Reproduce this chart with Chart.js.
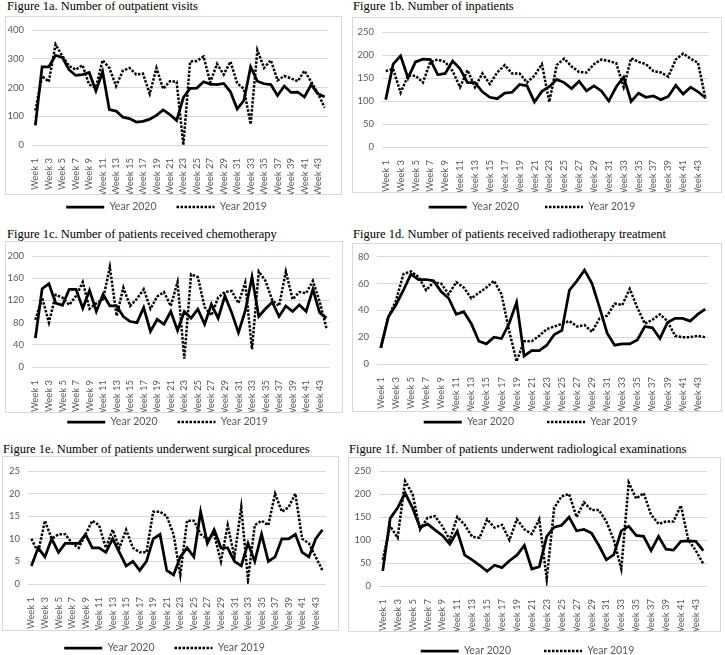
<!DOCTYPE html>
<html>
<head>
<meta charset="utf-8">
<script src="https://cdn.jsdelivr.net/npm/chart.js@4"></script>
<style>
body { margin: 0; width: 725px; height: 655px; overflow: hidden; background: #fff; position: relative; }
.ttl { position: absolute; font-family: "Liberation Serif", serif; font-size: 12.5px; line-height: 14px; white-space: nowrap; color: #000; }
.box { position: absolute; border: 1px solid #d9d9d9; box-sizing: border-box; }
canvas { position: absolute; }
</style>
</head>
<body>
<script>
var weeks = ['Week 1','Week 2','Week 3','Week 4','Week 5','Week 6','Week 7','Week 8','Week 9','Week 10',
  'Week 11','Week 12','Week 13','Week 14','Week 15','Week 16','Week 17','Week 18','Week 19','Week 20',
  'Week 21','Week 22','Week 23','Week 24','Week 25','Week 26','Week 27','Week 28','Week 29','Week 30',
  'Week 31','Week 32','Week 33','Week 34','Week 35','Week 36','Week 37','Week 38','Week 39','Week 40',
  'Week 41','Week 42','Week 43','Week 44'];
var seriesNames = ['Year 2020', 'Year 2019'];

var outpatient2020 = [68,272,272,312,305,262,242,245,252,188, 255,123,118,97,92,80,82,90,103,122, 106,85,165,197,198,220,212,210,214,185, 125,155,272,222,213,210,172,205,183,184, 167,210,178,168];
var outpatient2019 = [120,240,220,350,310,275,262,278,210,200, 295,268,205,258,268,245,248,178,268,195, 222,220,0,290,292,308,218,282,245,290, 215,195,72,330,268,295,225,240,232,222, 258,220,180,130];

var inpatient2020 = [103,180,198,150,185,191,190,157,160,187, 170,140,140,120,108,105,117,119,136,133, 98,121,131,147,140,127,143,122,133,122, 100,131,152,99,117,108,111,103,110,134, 115,130,120,107];
var inpatient2019 = [165,170,118,155,155,140,185,190,185,165, 130,167,130,160,137,162,178,160,160,140, 155,180,98,178,192,175,163,162,180,190, 187,182,130,193,185,180,165,162,153,190, 203,192,183,105];

var chemo2020 = [52,141,150,115,111,140,140,106,138,100, 131,110,110,91,82,80,107,64,86,77, 100,66,100,88,104,77,113,88,128,98, 62,101,162,91,105,117,91,110,100,112, 100,140,98,88];
var chemo2019 = [85,125,80,130,125,112,128,153,105,115, 122,180,92,143,110,123,140,105,127,135, 110,153,15,167,162,108,93,125,135,137, 115,152,32,172,155,120,110,172,122,135, 133,155,118,70];

var radio2020 = [12,35,44,55,67,63,63,62,54,49, 37,39,30,17,15,20,19,30,46,6, 10,10,14,22,25,55,62,70,60,42, 23,14,15,15,18,28,27,19,31,34, 34,32,37,41];
var radio2019 = [12,35,47,67,69,65,55,61,60,52, 61,57,49,53,57,62,52,25,2,17, 17,21,26,28,30,32,28,29,24,34, 36,45,44,56,42,30,33,37,32,21, 20,20,21,20];

var surgery2020 = [4,8,6,10,7,9,9,9,11,8, 8,7,10,7,4,5,3,5,10,11, 3,2,6,8,6,16,9,12,8,8, 5,4,9,5,11,5,6,10,10,11, 7,6,10,12];
var surgery2019 = [10,7,14,10,11,11,9,8,11,14, 13,8,12,8,12,8,7,7,16,16, 15,11,2,14,14,11,10,11,5,13, 6,17,1,13,14,13,20,16,17,20, 10,9,6,3];

var exams2020 = [33,147,170,202,170,127,135,122,110,91, 119,67,57,45,32,45,40,55,67,88, 37,42,108,128,132,150,120,123,115,88, 57,68,120,130,110,108,77,108,80,78, 97,98,97,77];
var exams2019 = [57,130,105,228,200,123,148,152,130,100, 150,133,107,105,145,127,133,100,145,123, 113,145,15,170,195,200,150,182,165,165, 140,100,37,225,190,202,155,135,140,140, 175,100,77,48];

var titles = ['Figure 1a. Number of outpatient visits',
  'Figure 1b. Number of inpatients',
  'Figure 1c. Number of patients received chemotherapy',
  'Figure 1d. Number of patients received radiotherapy treatment',
  'Figure 1e. Number of patients underwent surgical procedures',
  'Figure 1f. Number of patients underwent radiological examinations'];
var yMax = [400, 250, 200, 80, 25, 250];
var yStep = [50, 50, 20, 10, 5, 50];

// page layout: box = [l,t,r,b], plot = grid area [l,t,r,b]
var panels = [
  {tx: 7,   tb: 10,  box: [5,16,342,195],   plot: [32,30,328,145],     legY: 207, legPad: 20, d20: outpatient2020, d19: outpatient2019},
  {tx: 353, tb: 10,  box: [352,17,722,193], plot: [382,32,712,147],    legY: 207, legPad: 26, d20: inpatient2020,  d19: inpatient2019},
  {tx: 7,   tb: 238, box: [5,241,343,413],  plot: [32,256,330,367],    legY: 422, legPad: 20, d20: chemo2020,      d19: chemo2019},
  {tx: 353, tb: 238, box: [352,243,722,412],plot: [377,256,709,364],   legY: 422, legPad: 33, d20: radio2020,      d19: radio2019},
  {tx: 3,   tb: 453, box: [2,456,339,631],  plot: [28,471,327,584],    legY: 648, legPad: 20, d20: surgery2020,    d19: surgery2019},
  {tx: 349, tb: 453, box: [348,457,721,632],plot: [379,471,707,586],   legY: 651, legPad: 33, d20: exams2020,      d19: exams2019}
];

var tickFont = {family: 'Lato', size: 9.5};
var legFont = {family: 'Lato', size: 10.5};

function panel(p, k) {
  var b = p.box, pl = p.plot;
  var t = document.createElement('div');
  t.className = 'ttl';
  t.textContent = titles[k];
  t.style.left = p.tx + 'px';
  t.style.top = (p.tb - 11) + 'px';
  document.body.appendChild(t);

  var bx = document.createElement('div');
  bx.className = 'box';
  bx.style.left = b[0] + 'px';
  bx.style.top = b[1] + 'px';
  bx.style.width = (b[2] - b[0]) + 'px';
  bx.style.height = (b[3] - b[1]) + 'px';
  document.body.appendChild(bx);

  var W = b[2] - b[0], H = p.legY + 12 - b[1];
  var cv = document.createElement('canvas');
  cv.width = W; cv.height = H;
  cv.style.left = b[0] + 'px'; cv.style.top = b[1] + 'px';
  cv.style.width = W + 'px'; cv.style.height = H + 'px';
  document.body.appendChild(cv);

  var boxH = b[3] - b[1];
  var legTop = p.legY - p.legPad - legFont.size / 2 - b[1];

  return new Chart(cv, {
    type: 'line',
    data: {
      labels: weeks,
      datasets: [
        {label: seriesNames[0], data: p.d20, borderColor: '#000', backgroundColor: '#000',
         borderWidth: 2.75, pointRadius: 0, tension: 0},
        {label: seriesNames[1], data: p.d19, borderColor: '#000', backgroundColor: '#000',
         borderWidth: 2.5, borderDash: [2.5, 1.5], pointRadius: 0, tension: 0}
      ]
    },
    options: {
      responsive: false,
      animation: false,
      events: [],
      layout: {padding: {top: pl[1] - b[1], right: b[2] - pl[2], left: 0, bottom: 0}},
      scales: {
        x: {
          offset: true,
          grid: {display: false},
          border: {display: false},
          ticks: {
            autoSkip: false, maxRotation: 90, minRotation: 90, padding: 5,
            color: '#595959', font: tickFont,
            callback: function (v, i) { return i % 2 === 0 ? this.getLabelForValue(v) : ''; }
          },
          afterFit: function (s) { s.height = b[3] - pl[3] - 1; }
        },
        y: {
          min: 0, max: yMax[k],
          grid: {color: '#d9d9d9', drawTicks: false},
          border: {display: false},
          ticks: {stepSize: yStep[k], padding: 8, color: '#595959', font: tickFont},
          afterFit: function (s) { s.width = pl[0] - b[0]; }
        }
      },
      plugins: {
        legend: {
          position: 'bottom',
          labels: {
            usePointStyle: true, pointStyle: 'line', pointStyleWidth: 38, boxWidth: 38,
            padding: p.legPad, color: '#595959', font: legFont,
            generateLabels: function (c) {
              var items = Chart.defaults.plugins.legend.labels.generateLabels(c);
              items.forEach(function (it, i) {
                var ds = c.data.datasets[i];
                it.lineDash = ds.borderDash || [];
                it.lineWidth = ds.borderWidth;
                it.strokeStyle = ds.borderColor;
              });
              return items;
            }
          }
        },
        tooltip: {enabled: false}
      }
    },
    plugins: [{
      id: 'legfit',
      beforeInit: function (c) {
        var f = c.legend.fit;
        c.legend.fit = function () { f.call(this); this.height = H - boxH + 1; };
      },
      afterLayout: function (c) {
        c.legend.top = legTop;
        c.legend.bottom = H;
        c.legend.height = H - legTop;
      }
    }]
  });
}

panels.forEach(panel);
</script>
</body>
</html>
